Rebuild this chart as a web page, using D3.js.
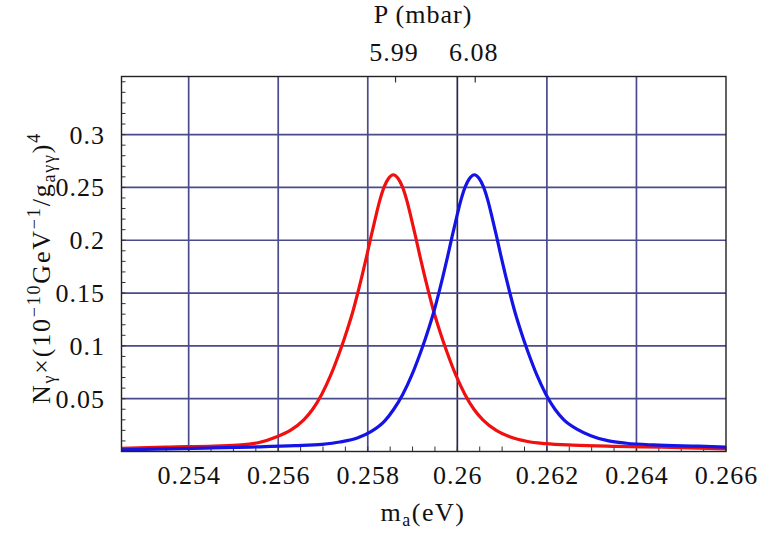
<!DOCTYPE html>
<html>
<head>
<meta charset="utf-8">
<script src="https://cdn.jsdelivr.net/npm/d3@7"></script>
<style>
  body { margin: 0; background: #fff; }
</style>
</head>
<body>
<svg id="chart"></svg>
<script>
const W = 760;
const H = 536;
const serif = "Liberation Serif";

// mass axis (eV)
const massTicks = [0.254, 0.256, 0.258, 0.26, 0.262, 0.264, 0.266];
const massTickLabels = ["0.254", "0.256", "0.258", "0.26", "0.262", "0.264", "0.266"];
// photon counts axis
const countTicks = [0.05, 0.1, 0.15, 0.2, 0.25, 0.3];
const countTickLabels = ["0.05", "0.1", "0.15", "0.2", "0.25", "0.3"];
// top axis: pressure (mbar) and the mass where each one sits
const pressureTicks = [5.99, 6.08];
const pressureMass = [0.25862, 0.2604];

// red curve (P = 5.99 mbar)
const massRed = [0.2525, 0.25357, 0.25457, 0.25517, 0.25557, 0.25597, 0.25627, 0.25657, 0.25677,
                 0.25697, 0.25717, 0.25737, 0.25747, 0.25757, 0.25767, 0.25777, 0.25787, 0.25797,
                 0.25807, 0.25817, 0.25827, 0.25837, 0.25847, 0.25857, 0.25867, 0.25877, 0.25887,
                 0.25897, 0.25907, 0.25917, 0.25927, 0.25937, 0.25947, 0.25957, 0.25967, 0.25977,
                 0.25997, 0.26017, 0.26037, 0.26057, 0.26087, 0.26117, 0.26157, 0.26197, 0.26257,
                 0.26357, 0.26457, 0.2660];
const countRed = [0.003, 0.0042, 0.0052, 0.0062, 0.0085, 0.014, 0.020, 0.030, 0.040,
                  0.054, 0.072, 0.094, 0.106, 0.119, 0.133, 0.149, 0.166, 0.184,
                  0.203, 0.221, 0.238, 0.251, 0.259, 0.262, 0.259, 0.251, 0.238,
                  0.221, 0.203, 0.184, 0.166, 0.149, 0.133, 0.119, 0.106, 0.094,
                  0.072, 0.054, 0.040, 0.030, 0.020, 0.014, 0.0095, 0.0075, 0.006,
                  0.0048, 0.004, 0.0025];

// blue curve (P = 6.08 mbar)
const massBlue = [0.2525, 0.25438, 0.25538, 0.25638, 0.25698, 0.25738, 0.25778, 0.25808, 0.25838,
                  0.25858, 0.25878, 0.25898, 0.25918, 0.25928, 0.25938, 0.25948, 0.25958, 0.25968,
                  0.25978, 0.25988, 0.25998, 0.26008, 0.26018, 0.26028, 0.26038, 0.26048, 0.26058,
                  0.26068, 0.26078, 0.26088, 0.26098, 0.26108, 0.26118, 0.26128, 0.26138, 0.26148,
                  0.26158, 0.26178, 0.26198, 0.26218, 0.26238, 0.26268, 0.26298, 0.26338, 0.26378,
                  0.26438, 0.26538, 0.2660];
const countBlue = [0.0016, 0.0032, 0.0042, 0.0055, 0.0068, 0.009, 0.013, 0.019, 0.029,
                   0.040, 0.054, 0.072, 0.094, 0.106, 0.119, 0.133, 0.149, 0.166,
                   0.184, 0.203, 0.221, 0.238, 0.251, 0.259, 0.262, 0.259, 0.251,
                   0.238, 0.221, 0.203, 0.184, 0.166, 0.149, 0.133, 0.119, 0.106,
                   0.094, 0.072, 0.054, 0.040, 0.030, 0.021, 0.015, 0.010, 0.0078,
                   0.0062, 0.005, 0.0042];

const svg = d3.select("#chart")
  .attr("width", W)
  .attr("height", H);

const plotL = 121.5, plotR = 726, plotT = 76.5, plotB = 451.5;

const x = d3.scaleLinear().domain([0.2525, 0.266]).range([plotL, plotR]);
const y = d3.scaleLinear().domain([0, 0.355]).range([plotB, plotT]);
const p = d3.scaleLinear().domain(pressureTicks).range(pressureMass.map(x));

svg.append("defs").append("clipPath").attr("id", "plotclip")
  .append("rect")
    .attr("x", plotL).attr("y", plotT)
    .attr("width", plotR - plotL).attr("height", plotB - plotT);

// grid
svg.selectAll(".vgrid")
  .data(massTicks.slice(0, -1))
  .join("line")
    .attr("x1", d => x(d)).attr("x2", d => x(d))
    .attr("y1", plotT).attr("y2", plotB)
    .attr("stroke", d => d === 0.26 ? "#27274a" : "#4a4a8c")
    .attr("stroke-width", 1.7);

svg.selectAll(".hgrid")
  .data(countTicks)
  .join("line")
    .attr("x1", plotL).attr("x2", plotR)
    .attr("y1", d => y(d)).attr("y2", d => y(d))
    .attr("stroke", "#4a4a8c")
    .attr("stroke-width", 1.7);

// minor ticks, pointing inwards
const minorMass = d3.range(0, 28).map(i => 0.2525 + i * 0.0005);
svg.selectAll(".xminor")
  .data(minorMass)
  .join("line")
    .attr("x1", d => x(d)).attr("x2", d => x(d))
    .attr("y1", plotB).attr("y2", plotB - 5)
    .attr("stroke", "#333");

const minorCount = d3.range(1, 36).map(i => i * 0.01);
svg.selectAll(".yminor")
  .data(minorCount)
  .join("line")
    .attr("x1", plotL).attr("x2", plotL + 4)
    .attr("y1", d => y(d)).attr("y2", d => y(d))
    .attr("stroke", "#333");

svg.selectAll(".ptick")
  .data(pressureTicks)
  .join("line")
    .attr("x1", d => p(d)).attr("x2", d => p(d))
    .attr("y1", plotT).attr("y2", plotT + 6)
    .attr("stroke", "#333")
    .attr("stroke-width", 1.2);

// curves
const line = d3.line()
  .x(d => x(d[0]))
  .y(d => y(d[1]))
  .curve(d3.curveMonotoneX);

const curves = [
  {mass: massRed, count: countRed, colour: "#f01010"},
  {mass: massBlue, count: countBlue, colour: "#1414e6"}
];

svg.append("g")
  .attr("clip-path", "url(#plotclip)")
  .selectAll("path")
  .data(curves)
  .join("path")
    .attr("d", d => line(d.mass.map((m, i) => [m, d.count[i]])))
    .attr("fill", "none")
    .attr("stroke", d => d.colour)
    .attr("stroke-width", 3.2)
    .attr("stroke-linejoin", "round");

// frame
svg.append("rect")
  .attr("x", plotL).attr("y", plotT)
  .attr("width", plotR - plotL).attr("height", plotB - plotT)
  .attr("fill", "none")
  .attr("stroke", "#222")
  .attr("stroke-width", 1.4);

// every text gets the same serif face
function label(sel) {
  return sel.attr("font-family", serif)
    .attr("font-size", 26)
    .attr("fill", "#111")
    .attr("letter-spacing", 1);
}

// tick labels
svg.selectAll(".xlab")
  .data(massTicks)
  .join("text")
    .call(label)
    .attr("x", d => x(d) + 0.5)
    .attr("y", 484)
    .attr("text-anchor", "middle")
    .text((d, i) => massTickLabels[i]);

svg.selectAll(".ylab")
  .data(countTicks)
  .join("text")
    .call(label)
    .attr("x", 105)
    .attr("y", d => y(d) + 9)
    .attr("text-anchor", "end")
    .text((d, i) => countTickLabels[i]);

svg.selectAll(".plab")
  .data(pressureTicks)
  .join("text")
    .call(label)
    .attr("x", d => p(d) - 1.5)
    .attr("y", 61)
    .attr("text-anchor", "middle")
    .text(d => d3.format(".2f")(d));

// axis titles
svg.append("text")
  .call(label)
  .attr("x", 423)
  .attr("y", 23)
  .attr("text-anchor", "middle")
  .text("P (mbar)");

const xTitle = svg.append("text")
  .call(label)
  .attr("x", 423)
  .attr("y", 521)
  .attr("letter-spacing", 1.5)
  .attr("text-anchor", "middle");
xTitle.append("tspan").text("m");
xTitle.append("tspan").attr("font-size", 18).attr("dy", 5).text("a");
xTitle.append("tspan").attr("dy", -5).text("(eV)");

const yTitle = svg.append("text")
  .call(label)
  .attr("transform", "translate(50,268) rotate(-90)")
  .attr("letter-spacing", 1.8)
  .attr("text-anchor", "middle");
yTitle.append("tspan").text("N");
yTitle.append("tspan").attr("font-size", 18).attr("dy", 5).text("γ");
yTitle.append("tspan").attr("dy", -5).text("×(10");
yTitle.append("tspan").attr("font-size", 18).attr("dy", -10).text("−10");
yTitle.append("tspan").attr("dy", 10).text("GeV");
yTitle.append("tspan").attr("font-size", 18).attr("dy", -10).text("−1");
yTitle.append("tspan").attr("dy", 10).text("/g");
yTitle.append("tspan").attr("font-size", 18).attr("dy", 5).text("aγγ");
yTitle.append("tspan").attr("dy", -5).text(")");
yTitle.append("tspan").attr("font-size", 18).attr("dy", -10).text("4");
</script>
</body>
</html>
